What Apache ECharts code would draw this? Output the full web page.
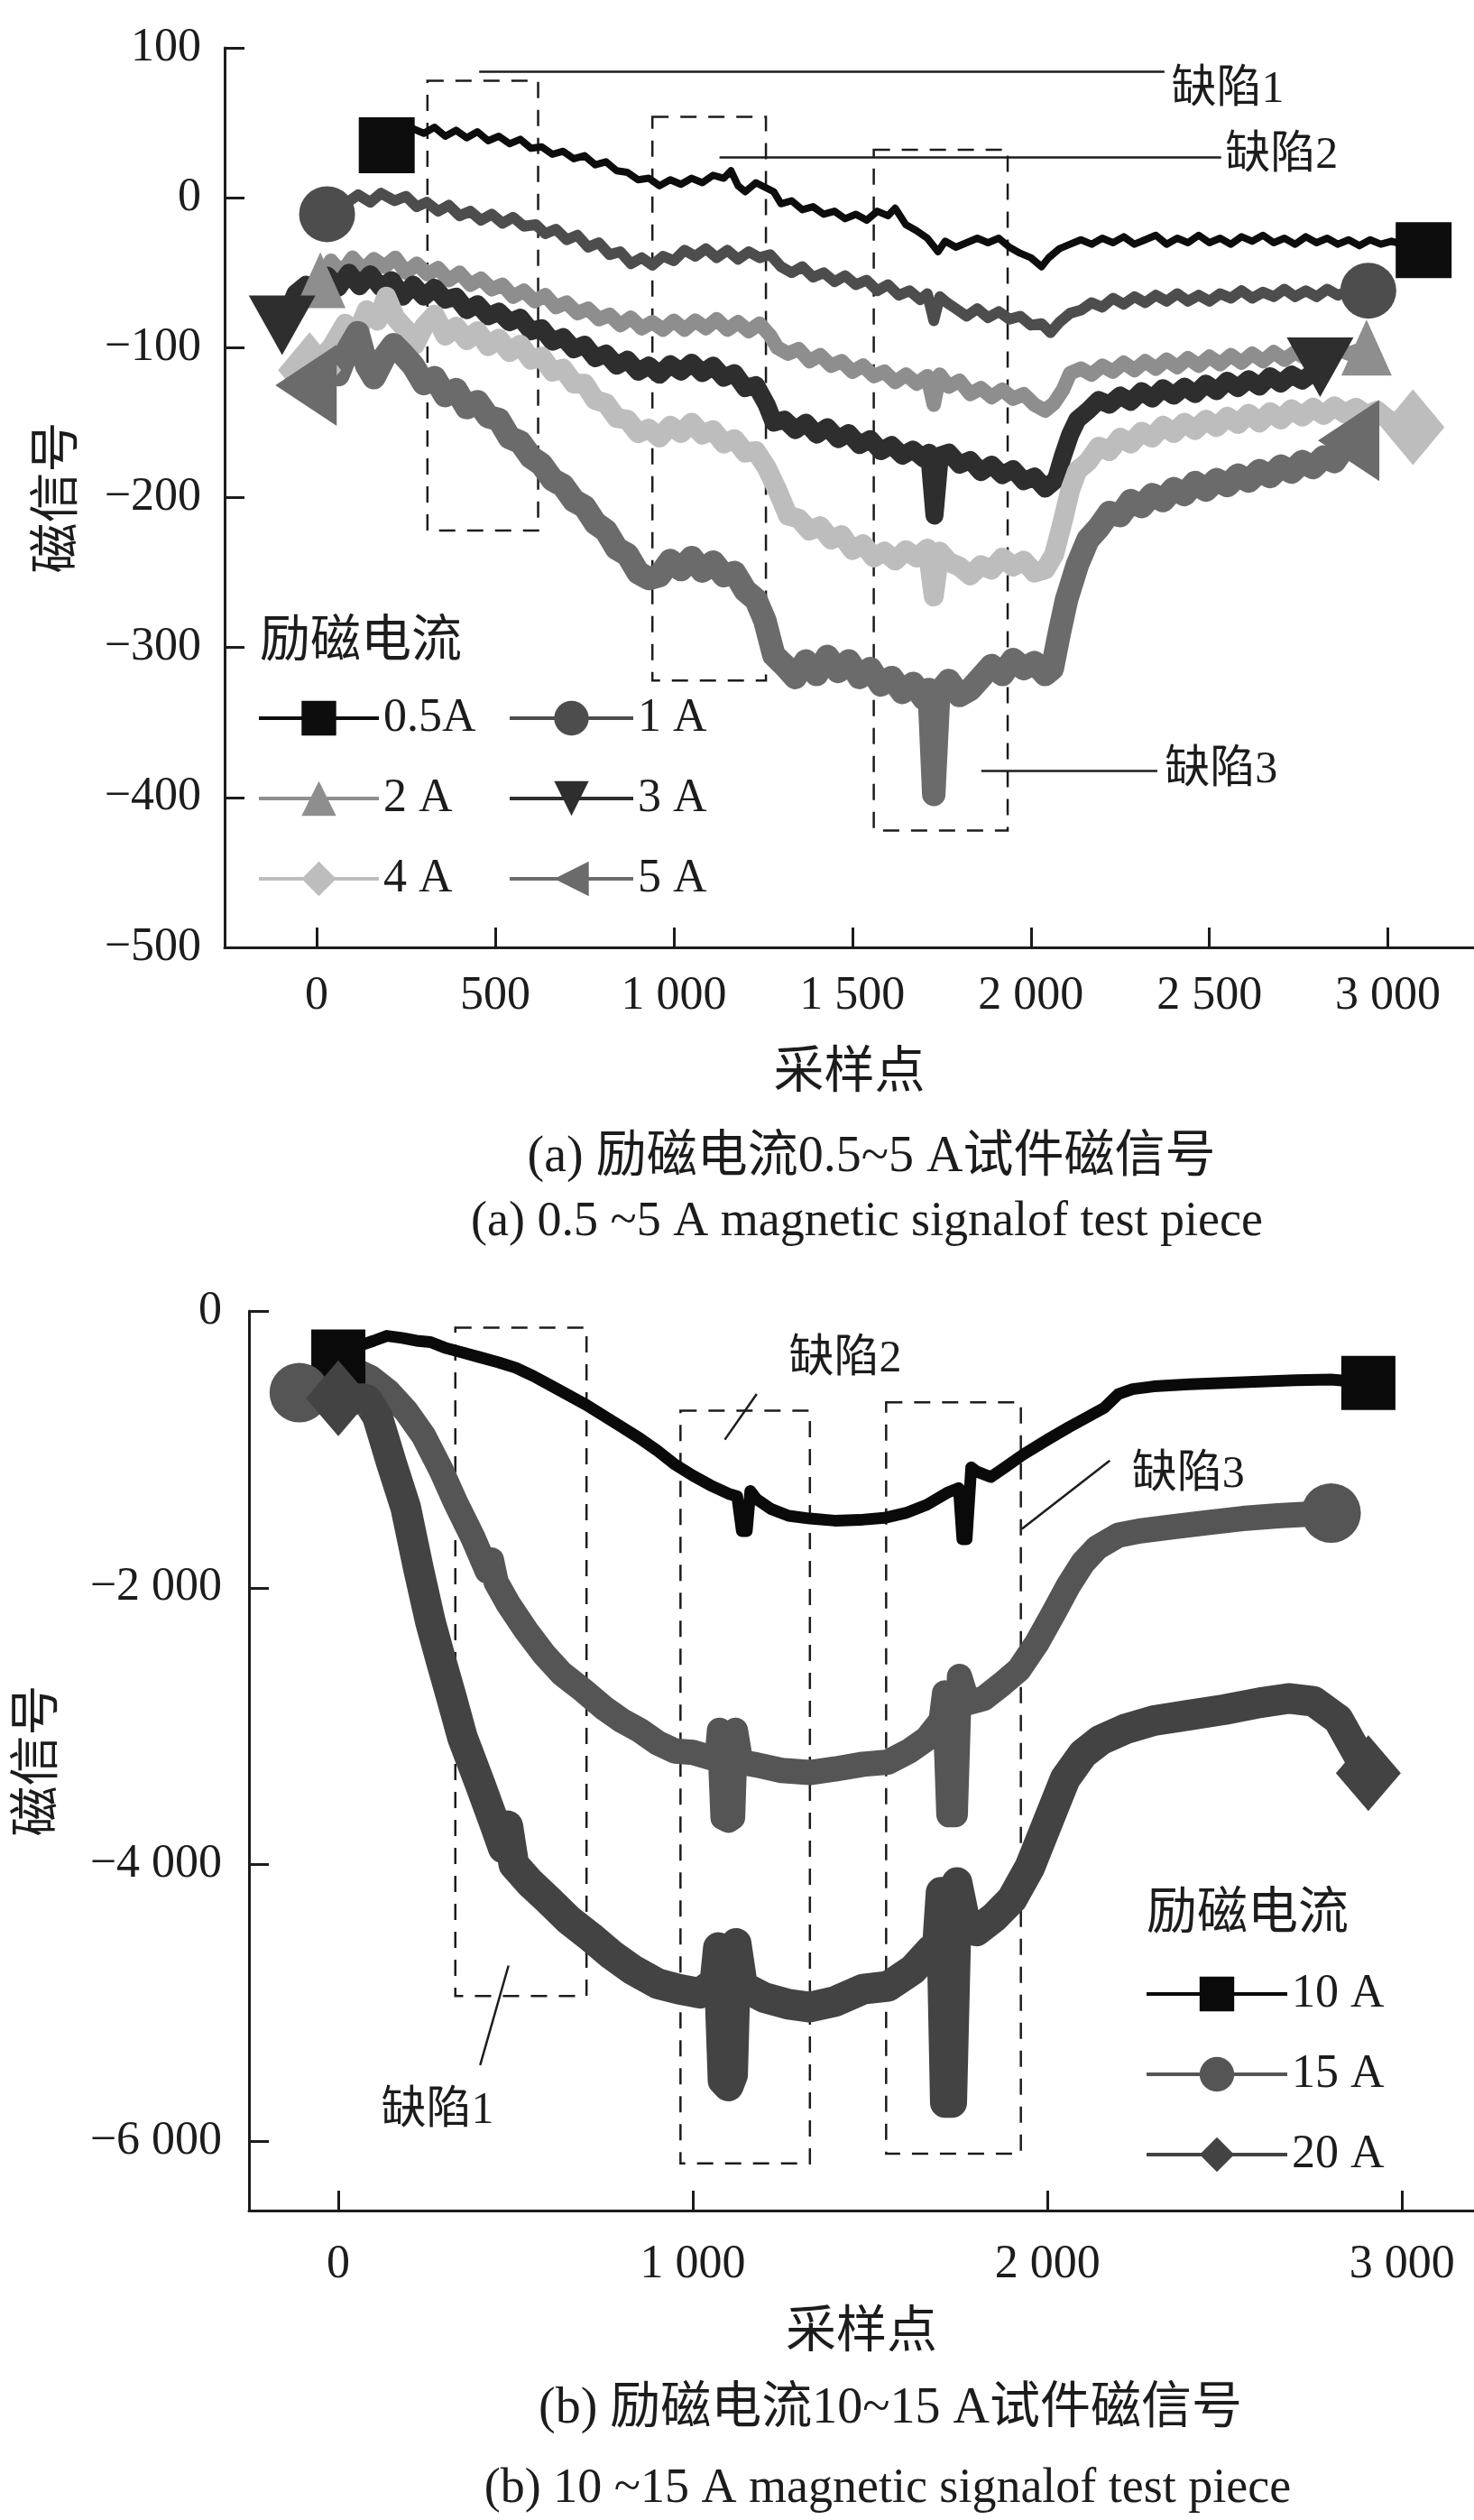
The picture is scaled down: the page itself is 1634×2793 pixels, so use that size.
<!DOCTYPE html>
<html>
<head>
<meta charset="utf-8">
<script src="https://cdn.jsdelivr.net/npm/echarts@6/dist/echarts.min.js"></script>
<style>
  html, body { margin: 0; padding: 0; background: #fff; }
  #chart { width: 1634px; height: 2793px; }
</style>
</head>
<body>
<div id="chart"></div>
<script>
// ---- (a) 0.5 ~ 5 A : [sample point, signal]
const a05 = [[196,35],[270,46],[300,43],[330,47],[360,41],[390,45],[420,40],[450,44],[480,38],[510,41],[540,36],[570,39],[600,33],[630,34],[660,29],[690,31],[720,26],[750,28],[780,22],[810,24],[840,18],[870,17],[900,12],[930,13],[960,8],[990,12],[1020,9],[1050,13],[1080,10],[1110,15],[1140,13],[1160,18],[1180,8],[1200,4],[1230,10],[1255,7],[1280,4],[1300,-4],[1330,-2],[1360,-8],[1390,-6],[1420,-11],[1450,-9],[1480,-14],[1510,-11],[1540,-15],[1570,-9],[1600,-12],[1620,-7],[1650,-18],[1680,-22],[1710,-27],[1740,-36],[1760,-29],[1790,-33],[1820,-30],[1850,-27],[1880,-30],[1910,-27],[1940,-33],[1970,-37],[2000,-40],[2030,-46],[2050,-40],[2080,-34],[2110,-31],[2140,-28],[2170,-31],[2200,-27],[2230,-30],[2260,-26],[2290,-31],[2320,-28],[2350,-25],[2380,-31],[2410,-27],[2440,-30],[2470,-25],[2500,-30],[2530,-27],[2560,-31],[2590,-26],[2620,-29],[2650,-25],[2680,-30],[2710,-27],[2740,-31],[2770,-26],[2800,-30],[2830,-27],[2860,-31],[2890,-28],[2920,-32],[2950,-28],[2980,-31],[3010,-29],[3100,-35]]
const a1 = [[29,-11],[80,-4],[116,2],[150,-3],[180,3],[218,-2],[250,1],[280,-6],[308,-3],[340,-9],[370,-5],[400,-12],[430,-9],[460,-15],[490,-11],[520,-17],[550,-13],[580,-19],[614,-18],[640,-24],[670,-21],[700,-28],[730,-25],[760,-33],[790,-30],[820,-38],[850,-36],[880,-44],[910,-40],[940,-45],[970,-39],[1000,-42],[1030,-35],[1060,-39],[1090,-34],[1120,-40],[1150,-35],[1180,-41],[1210,-36],[1240,-40],[1270,-38],[1300,-46],[1330,-50],[1360,-46],[1390,-53],[1420,-50],[1450,-56],[1480,-52],[1510,-58],[1540,-55],[1570,-62],[1600,-58],[1630,-65],[1660,-62],[1690,-68],[1710,-64],[1728,-82],[1745,-66],[1765,-70],[1790,-74],[1820,-79],[1850,-74],[1880,-80],[1910,-76],[1940,-81],[1970,-79],[2000,-85],[2030,-84],[2055,-90],[2080,-83],[2110,-77],[2140,-75],[2170,-70],[2200,-73],[2230,-67],[2260,-71],[2290,-66],[2320,-70],[2350,-65],[2380,-69],[2410,-64],[2440,-69],[2470,-65],[2500,-69],[2530,-64],[2560,-67],[2590,-62],[2620,-67],[2650,-63],[2680,-66],[2710,-61],[2740,-66],[2770,-62],[2800,-66],[2830,-61],[2860,-65],[2890,-62],[2945,-62]]
const a2 = [[10,-55],[40,-42],[70,-50],[100,-40],[130,-48],[160,-41],[190,-46],[220,-40],[250,-50],[280,-44],[310,-51],[340,-47],[370,-55],[400,-50],[430,-58],[460,-54],[490,-61],[520,-58],[550,-66],[580,-62],[610,-69],[640,-65],[670,-73],[700,-70],[730,-77],[760,-74],[790,-81],[820,-78],[850,-85],[880,-80],[910,-87],[940,-83],[970,-88],[1000,-82],[1030,-88],[1060,-82],[1090,-87],[1120,-81],[1150,-88],[1180,-83],[1210,-89],[1240,-84],[1270,-92],[1290,-100],[1320,-104],[1350,-101],[1380,-109],[1410,-105],[1440,-112],[1470,-109],[1500,-116],[1530,-112],[1560,-119],[1590,-116],[1620,-123],[1650,-118],[1680,-124],[1710,-119],[1728,-138],[1745,-118],[1770,-126],[1800,-122],[1830,-131],[1860,-127],[1890,-133],[1920,-128],[1950,-134],[1980,-131],[2010,-138],[2040,-142],[2065,-137],[2090,-128],[2110,-117],[2140,-114],[2170,-118],[2200,-112],[2230,-116],[2260,-110],[2290,-115],[2320,-109],[2350,-114],[2380,-108],[2410,-113],[2440,-107],[2470,-112],[2500,-106],[2530,-111],[2560,-105],[2590,-110],[2620,-104],[2650,-109],[2680,-103],[2710,-108],[2740,-103],[2770,-107],[2800,-102],[2830,-106],[2860,-101],[2890,-104],[2940,-100]]
const a3 = [[-97,-85],[-60,-64],[-30,-58],[0,-66],[30,-52],[60,-60],[90,-50],[120,-59],[150,-51],[180,-60],[210,-55],[240,-66],[270,-58],[300,-66],[330,-60],[360,-68],[390,-66],[420,-75],[450,-71],[480,-79],[510,-76],[540,-83],[570,-80],[600,-89],[630,-87],[660,-96],[690,-93],[720,-101],[750,-98],[780,-107],[810,-104],[840,-112],[870,-108],[900,-116],[930,-112],[960,-118],[990,-111],[1020,-116],[1050,-110],[1080,-117],[1110,-112],[1140,-120],[1170,-117],[1200,-127],[1230,-125],[1260,-138],[1280,-150],[1310,-148],[1340,-155],[1370,-150],[1400,-158],[1430,-153],[1460,-161],[1490,-157],[1520,-165],[1550,-161],[1580,-169],[1610,-165],[1640,-172],[1670,-168],[1700,-174],[1715,-170],[1730,-212],[1745,-172],[1770,-170],[1800,-178],[1830,-175],[1860,-183],[1890,-178],[1920,-185],[1950,-181],[1980,-189],[2010,-186],[2040,-194],[2070,-188],[2090,-172],[2110,-158],[2130,-148],[2160,-142],[2190,-135],[2220,-138],[2250,-132],[2280,-136],[2310,-129],[2340,-134],[2370,-127],[2400,-132],[2430,-126],[2460,-131],[2490,-124],[2520,-129],[2550,-122],[2580,-127],[2610,-121],[2640,-126],[2670,-119],[2700,-124],[2730,-118],[2760,-122],[2810,-113]]
const a4 = [[-20,-115],[40,-100],[80,-84],[110,-92],[140,-75],[170,-82],[195,-66],[220,-80],[250,-88],[275,-98],[300,-86],[330,-78],[360,-92],[390,-86],[420,-95],[450,-89],[480,-99],[510,-94],[540,-103],[570,-98],[600,-108],[630,-106],[660,-116],[690,-114],[720,-124],[750,-124],[780,-135],[810,-137],[840,-147],[870,-148],[900,-157],[930,-154],[960,-160],[990,-152],[1020,-157],[1050,-150],[1080,-158],[1110,-155],[1140,-164],[1170,-161],[1200,-170],[1230,-169],[1260,-180],[1290,-195],[1320,-212],[1350,-214],[1380,-222],[1410,-219],[1440,-228],[1470,-225],[1500,-235],[1530,-231],[1560,-240],[1590,-236],[1620,-242],[1650,-235],[1680,-240],[1710,-234],[1728,-266],[1745,-236],[1770,-243],[1800,-246],[1830,-252],[1860,-245],[1890,-248],[1920,-240],[1950,-246],[1980,-242],[2010,-250],[2040,-248],[2065,-238],[2090,-215],[2110,-195],[2130,-182],[2160,-176],[2190,-166],[2220,-169],[2250,-160],[2280,-164],[2310,-156],[2340,-160],[2370,-152],[2400,-157],[2430,-150],[2460,-155],[2490,-148],[2520,-153],[2550,-146],[2580,-151],[2610,-144],[2640,-150],[2670,-143],[2700,-148],[2730,-141],[2760,-146],[2790,-140],[2820,-145],[2850,-139],[2880,-144],[2910,-140],[2940,-145],[2970,-142],[3000,-148],[3070,-153]]
const a5 = [[-30,-125],[20,-112],[60,-118],[90,-100],[115,-90],[140,-112],[160,-120],[190,-106],[215,-98],[240,-104],[270,-112],[300,-124],[330,-120],[360,-132],[390,-128],[420,-140],[450,-136],[480,-146],[510,-148],[540,-160],[570,-163],[600,-173],[630,-178],[660,-188],[690,-192],[720,-202],[750,-206],[780,-217],[810,-222],[840,-234],[870,-238],[900,-250],[930,-254],[960,-252],[990,-242],[1020,-248],[1050,-240],[1080,-249],[1110,-243],[1140,-252],[1170,-250],[1200,-262],[1230,-268],[1255,-282],[1280,-305],[1310,-312],[1340,-320],[1370,-309],[1400,-318],[1430,-306],[1460,-316],[1490,-309],[1520,-320],[1550,-314],[1580,-325],[1610,-320],[1640,-330],[1670,-324],[1700,-334],[1715,-328],[1728,-398],[1742,-330],[1770,-322],[1800,-332],[1830,-328],[1860,-320],[1890,-312],[1920,-318],[1950,-308],[1980,-314],[2010,-310],[2040,-318],[2060,-314],[2080,-290],[2100,-268],[2130,-245],[2160,-228],[2190,-220],[2220,-210],[2250,-212],[2280,-202],[2310,-206],[2340,-198],[2370,-202],[2400,-194],[2430,-198],[2460,-190],[2490,-195],[2520,-188],[2550,-192],[2580,-185],[2610,-189],[2640,-182],[2670,-186],[2700,-179],[2730,-183],[2760,-176],[2790,-180],[2820,-173],[2850,-176],[2890,-162]]

// ---- (b) 10 ~ 20 A
const b10 = [[0,-330],[60,-250],[100,-215],[137,-180],[180,-195],[220,-215],[260,-225],[300,-265],[350,-300],[400,-335],[450,-370],[500,-410],[550,-470],[600,-540],[650,-610],[700,-680],[750,-760],[800,-840],[850,-920],[900,-1010],[950,-1110],[1000,-1190],[1050,-1260],[1100,-1320],[1125,-1340],[1138,-1590],[1152,-1590],[1162,-1300],[1180,-1360],[1220,-1430],[1270,-1480],[1330,-1500],[1400,-1515],[1470,-1510],[1540,-1495],[1600,-1460],[1660,-1400],[1720,-1310],[1750,-1280],[1760,-1650],[1772,-1650],[1785,-1130],[1800,-1160],[1840,-1200],[1880,-1130],[1930,-1040],[2000,-930],[2060,-840],[2110,-770],[2160,-700],[2200,-600],[2240,-565],[2300,-545],[2400,-530],[2500,-520],[2600,-510],[2700,-500],[2800,-495],[2905,-520]]
const b15 = [[-110,-590],[40,-420],[90,-480],[140,-580],[190,-720],[240,-900],[290,-1150],[330,-1380],[380,-1640],[420,-1880],[432,-1800],[445,-1960],[480,-2120],[530,-2310],[580,-2480],[630,-2620],[690,-2740],[750,-2870],[800,-2960],[850,-3030],[900,-3120],[950,-3180],[1000,-3190],[1040,-3220],[1068,-3240],[1075,-3030],[1085,-3660],[1100,-3680],[1112,-3660],[1120,-3030],[1135,-3260],[1180,-3280],[1250,-3320],[1330,-3335],[1400,-3310],[1480,-3275],[1550,-3260],[1610,-3180],[1660,-3090],[1700,-2960],[1710,-2760],[1722,-3640],[1740,-3640],[1752,-2640],[1775,-2830],[1820,-2800],[1870,-2700],[1920,-2590],[1970,-2400],[2020,-2170],[2060,-1980],[2100,-1820],[2140,-1710],[2200,-1620],[2260,-1590],[2350,-1560],[2450,-1530],[2550,-1500],[2650,-1480],[2720,-1470],[2800,-1460]]
const b20 = [[0,-630],[80,-640],[110,-760],[150,-1100],[190,-1420],[225,-1850],[260,-2250],[290,-2530],[320,-2800],[350,-3080],[400,-3420],[440,-3700],[465,-3880],[478,-3720],[495,-4000],[540,-4130],[590,-4250],[650,-4400],[710,-4520],[770,-4650],[830,-4760],[900,-4860],[960,-4900],[1020,-4930],[1062,-4850],[1072,-4600],[1085,-5560],[1100,-5600],[1112,-5520],[1122,-4570],[1140,-4880],[1200,-4960],[1270,-5010],[1330,-5030],[1400,-4990],[1480,-4900],[1550,-4880],[1620,-4760],[1670,-4620],[1690,-4580],[1700,-4200],[1712,-5720],[1730,-5720],[1745,-4130],[1765,-4380],[1800,-4480],[1850,-4380],[1900,-4250],[1950,-4020],[2000,-3700],[2050,-3380],[2100,-3200],[2150,-3100],[2220,-3020],[2300,-2960],[2400,-2920],[2500,-2880],[2600,-2830],[2680,-2800],[2750,-2820],[2820,-2950],[2905,-3340]]

// tick values
const xTicksA = [0, 500, 1000, 1500, 2000, 2500, 3000]
const xTicksB = [0, 1000, 2000, 3000]
const yTicksB = [0, -2000, -4000, -6000]

// defect boxes / leader lines / labels
const boxesA = [[[310, 78], [620, -222]], [[940, 54], [1258, -322]], [[1560, 32], [1935, -422]]]
const leadersA = [[[455, 84], [2374, 84]], [[1128, 27], [2533, 27]], [[1861, -382], [2354, -382]]]
const labelsA = [['缺陷1', 2392, 72], ['缺陷2', 2543, 28], ['缺陷3', 2374, -382]]
const boxesB = [[[330, -120], [700, -4950]], [[965, -720], [1330, -6160]], [[1545, -660], [1925, -6090]]]
const leadersB = [[[1090, -930], [1180, -600]], [[1928, -1575], [2176, -1080]], [[400, -5450], [480, -4730]]]
const labelsB = [['缺陷2', 1430, -353], ['缺陷3', 2397, -1183], ['缺陷1', 280, -5780]]

const FONT = '"Liberation Serif", "Noto Sans CJK SC", serif'
const INK = '#1c1c1c'

function fmtNum(v) {
  const s = String(Math.abs(v)).replace(/\B(?=(\d{3})+(?!\d))/g, ' ')
  return (v < 0 ? '\u2212' : '') + s
}

function curve(name, pts, color, width, symbol, size, rotate, idx) {
  const last = pts.length - 1
  return {
    name: name,
    type: 'line',
    xAxisIndex: idx,
    yAxisIndex: idx,
    data: pts,
    symbol: symbol,
    symbolRotate: rotate,
    symbolSize: (v, p) => (p.dataIndex === 0 || p.dataIndex === last) ? size : 0,
    showSymbol: true,
    showAllSymbol: true,
    clip: false,
    silent: true,
    itemStyle: { color: color },
    lineStyle: { color: color, width: width, join: 'round' },
    emphasis: { disabled: true }
  }
}

function overlay(idx, boxes, leaders, labels, labelPos) {
  return {
    name: 'defects',
    type: 'line',
    xAxisIndex: idx,
    yAxisIndex: idx,
    data: [],
    z: 6,
    silent: true,
    markArea: {
      silent: true,
      itemStyle: { color: 'rgba(0,0,0,0)', borderColor: INK, borderWidth: 2.5, borderType: [18, 13] },
      label: { show: false },
      data: boxes.map(b => [{ coord: b[0] }, { coord: b[1] }])
    },
    markLine: {
      silent: true,
      symbol: ['none', 'none'],
      lineStyle: { type: 'solid', color: INK, width: 2.5 },
      label: { show: false },
      data: leaders.map(l => [{ coord: l[0] }, { coord: l[1] }])
    },
    markPoint: {
      silent: true,
      symbol: 'circle',
      symbolSize: 1,
      itemStyle: { color: 'rgba(0,0,0,0)' },
      label: {
        show: true, position: labelPos, distance: 0,
        formatter: p => p.name,
        fontFamily: FONT, fontSize: 50, color: INK
      },
      data: labels.map(l => ({ name: l[0], coord: [l[1], l[2]] }))
    }
  }
}

function axisBase() {
  return {
    axisLine: { onZero: false, lineStyle: { color: INK, width: 3 } },
    axisTick: { inside: true, length: 22, lineStyle: { color: INK, width: 3 } },
    splitLine: { show: false },
    axisLabel: { color: INK, fontFamily: FONT, fontSize: 52, formatter: fmtNum },
    nameTextStyle: { color: INK, fontFamily: FONT, fontSize: 56 }
  }
}

function legendCol(left, top, names, iconW) {
  return {
    orient: 'vertical',
    left: left,
    top: top,
    padding: 0,
    itemWidth: iconW,
    itemHeight: 48,
    itemGap: 37,
    selectedMode: false,
    data: names,
    lineStyle: { width: 4 },
    textStyle: { color: INK, fontFamily: FONT, fontSize: 52 }
  }
}

function caption(x, y, text, size) {
  return {
    type: 'text', x: x, y: y, silent: true,
    style: {
      text: text, fill: INK, font: size + 'px ' + FONT,
      textAlign: 'center', textVerticalAlign: 'middle', align: 'center', verticalAlign: 'middle'
    }
  }
}

function legendTitle(x, y) {
  return {
    type: 'text', x: x, y: y, silent: true,
    style: {
      text: '励磁电流', fill: INK, font: '56px ' + FONT,
      textAlign: 'left', textVerticalAlign: 'middle', align: 'left', verticalAlign: 'middle'
    }
  }
}

const xA = axisBase()
const yA = axisBase()
const xB = axisBase()
const yB = axisBase()

const option = {
  animation: false,
  backgroundColor: '#fff',
  textStyle: { fontFamily: FONT },
  grid: [
    { left: 249, top: 53, width: 1385, height: 997 },
    { left: 276, top: 1453, width: 1358, height: 997 }
  ],
  xAxis: [
    Object.assign(xA, {
      type: 'value', gridIndex: 0, min: -258, max: 3241,
      name: '采样点', nameLocation: 'middle', nameGap: 112,
      axisTick: Object.assign(xA.axisTick, { customValues: xTicksA }),
      axisLabel: Object.assign(xA.axisLabel, { customValues: xTicksA, margin: 28 })
    }),
    Object.assign(xB, {
      type: 'value', gridIndex: 1, min: -252, max: 3203,
      name: '采样点', nameLocation: 'middle', nameGap: 108,
      axisTick: Object.assign(xB.axisTick, { customValues: xTicksB }),
      axisLabel: Object.assign(xB.axisLabel, { customValues: xTicksB, margin: 34 })
    })
  ],
  yAxis: [
    Object.assign(yA, {
      type: 'value', gridIndex: 0, min: -500, max: 100, interval: 100,
      name: '磁信号', nameLocation: 'middle', nameGap: 156,
      axisLabel: Object.assign(yA.axisLabel, { margin: 26 })
    }),
    Object.assign(yB, {
      type: 'value', gridIndex: 1, min: -6500, max: 0,
      name: '磁信号', nameLocation: 'middle', nameGap: 205,
      axisTick: Object.assign(yB.axisTick, { customValues: yTicksB }),
      axisLabel: Object.assign(yB.axisLabel, { customValues: yTicksB, margin: 30 })
    })
  ],
  legend: [
    legendCol(285, 770, ['0.5A', '2 A', '4 A'], 133),
    legendCol(563, 770, ['1 A', '3 A', '5 A'], 137),
    legendCol(1269, 2184, ['10 A', '15 A', '20 A'], 156)
  ],
  graphic: [
    legendTitle(288, 712),
    legendTitle(1271, 2122),
    caption(966, 1283, '(a) 励磁电流0.5~5 A试件磁信号', 56),
    caption(961, 1355, '(a) 0.5 ~5 A magnetic signalof test piece', 54),
    caption(987, 2670, '(b) 励磁电流10~15 A试件磁信号', 56),
    caption(984, 2759, '(b) 10 ~15 A magnetic signalof test piece', 54)
  ],
  series: [
    curve('0.5A', a05, '#0d0d0d', 8, 'rect', 62, 0, 0),
    curve('1 A', a1, '#4d4d4d', 12, 'circle', 62, 0, 0),
    curve('2 A', a2, '#8e8e8e', 16, 'triangle', [56, 62], 0, 0),
    curve('3 A', a3, '#2e2e2e', 20, 'triangle', [74, 66], 180, 0),
    curve('4 A', a4, '#bdbdbd', 22, 'diamond', [70, 84], 0, 0),
    curve('5 A', a5, '#6b6b6b', 26, 'triangle', [90, 68], 90, 0),
    overlay(0, boxesA, leadersA, labelsA, 'right'),
    curve('10 A', b10, '#0a0a0a', 13, 'rect', 60, 0, 1),
    curve('15 A', b15, '#555555', 28, 'circle', 66, 0, 1),
    curve('20 A', b20, '#434343', 34, 'diamond', [72, 84], 0, 1),
    overlay(1, boxesB, leadersB, labelsB, 'inside')
  ]
}

const chart = echarts.init(document.getElementById('chart'), null, { renderer: 'canvas' })
chart.setOption(option)
</script>
</body>
</html>
